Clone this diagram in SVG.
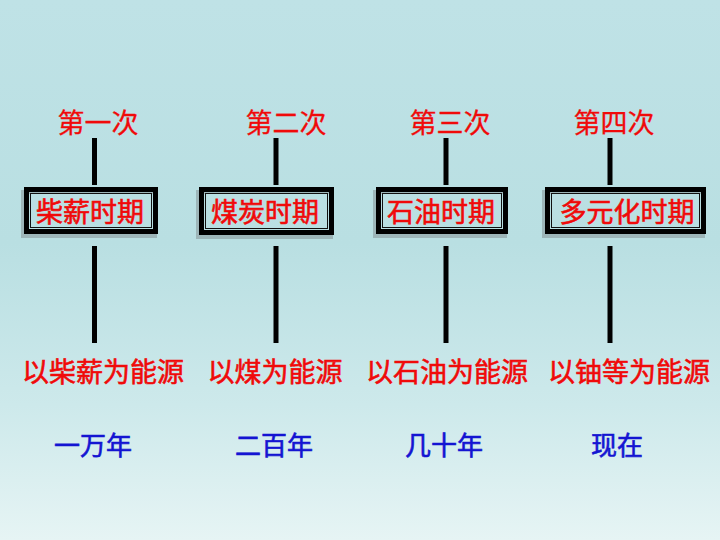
<svg xmlns="http://www.w3.org/2000/svg" width="720" height="540" viewBox="0 0 720 540">
<defs>
<linearGradient id="bg" x1="0" y1="0" x2="0" y2="1">
<stop offset="0" stop-color="#bfe2e6"/>
<stop offset="0.45" stop-color="#b9dfe2"/>
<stop offset="0.75" stop-color="#cde9eb"/>
<stop offset="1" stop-color="#e6f4f4"/>
</linearGradient>
<style>
text{font-family:"Noto Sans CJK SC","Noto Sans CJK TC",sans-serif;text-anchor:middle;}
.red{fill:#f00a0a;stroke:#f00a0a;stroke-width:0.6;font-size:27px;}
.top{fill:#f00a0a;stroke:#f00a0a;stroke-width:0.3;font-size:27px;}
.blue{fill:#1414d2;stroke:#1414d2;stroke-width:0.6;font-size:26px;}
.frame{fill:none;stroke:#000;stroke-width:5;}
.inner{fill:none;stroke:#111;stroke-width:1;}
.shadow{fill:none;stroke:#8a9a9c;stroke-width:4;opacity:0.6;}
.conn line{stroke:#000;stroke-width:5;}
</style>
</defs>
<rect width="720" height="540" fill="url(#bg)"/>
<g class="conn" id="connectors">
<line x1="94.5" y1="138" x2="94.5" y2="185"/>
<line x1="94.5" y1="246" x2="94.5" y2="343"/>
<line x1="276" y1="138" x2="276" y2="185"/>
<line x1="276" y1="246" x2="276" y2="343"/>
<line x1="446" y1="138" x2="446" y2="185"/>
<line x1="446" y1="246" x2="446" y2="343"/>
<line x1="610" y1="138" x2="610" y2="185"/>
<line x1="610" y1="246" x2="610" y2="343"/>
</g>
<g id="label-1"><text class="top" x="98" y="133">第一次</text></g>
<g id="label-2"><text class="top" x="286" y="133">第二次</text></g>
<g id="label-3"><text class="top" x="450" y="133">第三次</text></g>
<g id="label-4"><text class="top" x="614" y="133">第四次</text></g>
<g id="node-1">
<rect class="shadow" x="23" y="192" width="132" height="44"/>
<rect class="frame" x="26.5" y="189.5" width="129" height="42"/>
<rect class="inner" x="30.5" y="193.5" width="121" height="34"/>
<text class="red" x="90" y="222">柴薪时期</text>
</g>
<g id="node-2">
<rect class="shadow" x="198" y="192" width="133" height="45"/>
<rect class="frame" x="201.5" y="189.5" width="130" height="43"/>
<rect class="inner" x="205.5" y="193.5" width="122" height="35"/>
<text class="red" x="265" y="222">煤炭时期</text>
</g>
<g id="node-3">
<rect class="shadow" x="375" y="192" width="130" height="44"/>
<rect class="frame" x="378.5" y="189.5" width="127" height="42"/>
<rect class="inner" x="382.5" y="193.5" width="119" height="34"/>
<text class="red" x="441" y="222">石油时期</text>
</g>
<g id="node-4">
<rect class="shadow" x="544" y="192" width="159" height="44"/>
<rect class="frame" x="547.5" y="189.5" width="156" height="42"/>
<rect class="inner" x="551.5" y="193.5" width="148" height="34"/>
<text class="red" x="627" y="222">多元化时期</text>
</g>
<g id="source-1"><text class="red" x="103" y="382">以柴薪为能源</text></g>
<g id="source-2"><text class="red" x="275" y="382">以煤为能源</text></g>
<g id="source-3"><text class="red" x="447" y="382">以石油为能源</text></g>
<g id="source-4"><text class="red" x="629" y="382">以铀等为能源</text></g>
<g id="time-1"><text class="blue" x="93" y="455">一万年</text></g>
<g id="time-2"><text class="blue" x="274" y="455">二百年</text></g>
<g id="time-3"><text class="blue" x="444" y="455">几十年</text></g>
<g id="time-4"><text class="blue" x="617" y="455">现在</text></g>
</svg>
